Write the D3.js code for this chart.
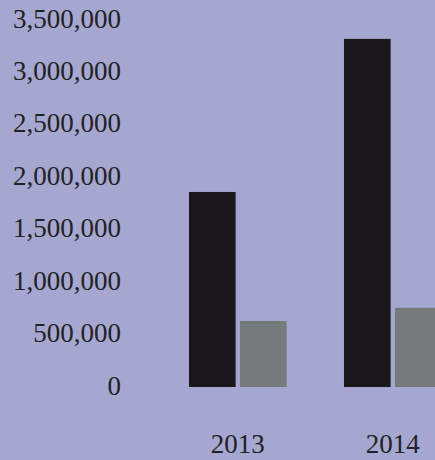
<!DOCTYPE html>
<html>
<head>
<meta charset="utf-8">
<script src="https://cdn.jsdelivr.net/npm/d3@7"></script>
<style>
  html, body { margin: 0; padding: 0; background: #a6a7d0; }
  svg { display: block; }
  text { font-family: "Liberation Serif", "DejaVu Serif", serif; fill: #222; }
</style>
</head>
<body>
<svg id="chart" width="435" height="460"></svg>
<script>
// Chart data
const years = ["2013", "2014"];
const seriesNames = ["primary", "secondary"];
const primaryValues = [1860000, 3320000];
const secondaryValues = [630000, 755000];
const yTicks = [0, 500000, 1000000, 1500000, 2000000, 2500000, 3000000, 3500000];
const seriesColors = ["#1b181c", "#767a7b"];

const svg = d3.select("#chart");

const y = d3.scaleLinear().domain([0, 3500000]).range([387, 20]);

const x0 = d3.scaleBand()
  .domain(years)
  .range([160.3, 470.3])
  .paddingInner(0.37)
  .paddingOuter(0.185);

const x1 = d3.scaleBand()
  .domain(seriesNames)
  .range([0, x0.bandwidth()])
  .paddingInner(0.085);

const rows = years.map((yr, i) => ({
  year: yr,
  values: [
    { key: "primary", value: primaryValues[i] },
    { key: "secondary", value: secondaryValues[i] }
  ]
}));

const color = d3.scaleOrdinal().domain(seriesNames).range(seriesColors);

// Bars
svg.append("g")
  .selectAll("g")
  .data(rows)
  .join("g")
  .attr("transform", d => `translate(${x0(d.year)},0)`)
  .selectAll("rect")
  .data(d => d.values)
  .join("rect")
  .attr("x", d => x1(d.key))
  .attr("width", x1.bandwidth())
  .attr("y", d => y(d.value))
  .attr("height", d => y(0) - y(d.value))
  .attr("fill", d => color(d.key));

// Y axis (labels only)
const yAxis = d3.axisLeft(y)
  .tickValues(yTicks)
  .tickFormat(d3.format(","))
  .tickSize(0)
  .tickPadding(0);

const gy = svg.append("g")
  .attr("transform", "translate(121,-1.5)")
  .call(yAxis);
gy.select(".domain").remove();
gy.selectAll("text")
  .attr("font-family", "Liberation Serif, DejaVu Serif, serif")
  .attr("font-size", 27)
  .attr("fill", "#262628");

// X axis (labels only)
const xAxis = d3.axisBottom(x0).tickSize(0).tickPadding(0);
const gx = svg.append("g")
  .attr("transform", "translate(0,434)")
  .call(xAxis);
gx.select(".domain").remove();
gx.selectAll("text")
  .attr("font-family", "Liberation Serif, DejaVu Serif, serif")
  .attr("font-size", 27)
  .attr("fill", "#262628");
</script>
</body>
</html>
